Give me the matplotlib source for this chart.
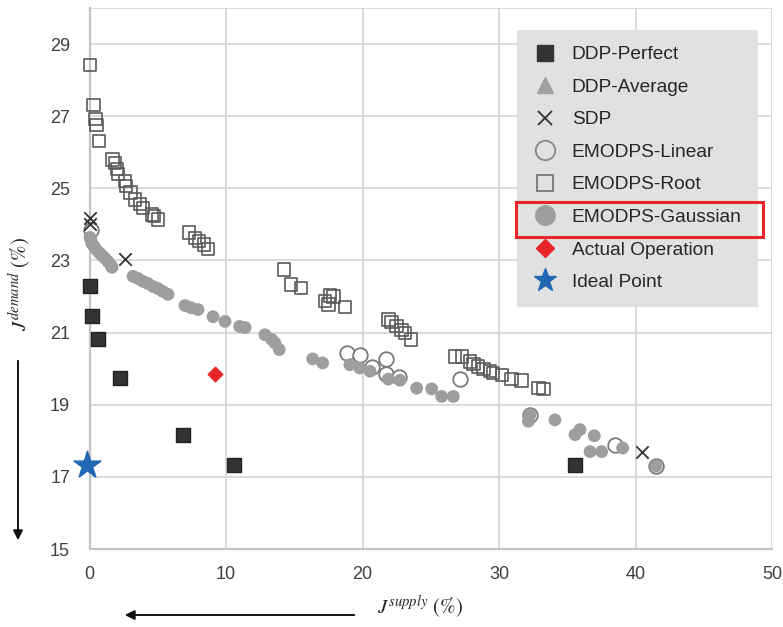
import matplotlib
matplotlib.use("Agg")
import matplotlib.pyplot as plt
from matplotlib.lines import Line2D
from matplotlib.patches import Rectangle, FancyArrowPatch

plt.rcParams['font.family'] = ['Liberation Sans', 'DejaVu Sans']
plt.rcParams['mathtext.fontset'] = 'stix'

# ---------------- data ----------------
ddp_perfect_x = [0.0, 0.2, 0.6, 2.2, 6.85, 10.6, 35.6]
ddp_perfect_y = [22.28, 21.45, 20.83, 19.75, 18.15, 17.32, 17.33]

ddp_average_x = []
ddp_average_y = []

sdp_x = [0.05, 0.05, 2.6, 40.45]
sdp_y = [24.18, 24.0, 23.03, 17.7]

linear_x = [0.1, 18.84, 19.82, 20.67, 21.72, 21.72, 22.7, 27.14, 32.27, 38.5, 41.5]
linear_y = [23.85, 20.43, 20.39, 20.06, 20.27, 19.86, 19.77, 19.72, 18.72, 17.89, 17.3]

root_x = [0.04, 0.28, 0.45, 0.5, 0.7, 1.7, 1.87, 2.0, 2.1, 2.6, 2.67, 3.0, 3.33, 3.7,
          3.94, 4.56, 4.72, 5.0, 7.3, 7.73, 8.04, 8.39, 8.7, 14.27, 14.76, 15.5,
          17.25, 17.6, 17.86, 17.5, 18.7, 21.89, 22.14, 22.5, 22.87, 23.1, 23.55,
          26.78, 27.27, 27.88, 28.12, 28.48, 28.85, 29.34, 29.58, 30.2, 30.93,
          31.66, 32.88, 33.25]
root_y = [28.42, 27.31, 26.92, 26.75, 26.31, 25.8, 25.7, 25.53, 25.4, 25.2, 25.06,
          24.88, 24.69, 24.56, 24.46, 24.28, 24.23, 24.14, 23.77, 23.63, 23.54,
          23.44, 23.31, 22.75, 22.33, 22.24, 21.87, 22.03, 22.0, 21.78, 21.71,
          21.36, 21.29, 21.19, 21.08, 20.99, 20.81, 20.34, 20.34, 20.2, 20.13,
          20.06, 19.99, 19.93, 19.88, 19.83, 19.71, 19.67, 19.46, 19.44]

gauss_x = [0.04, 0.11, 0.18, 0.33, 0.48, 0.7, 0.92, 1.14, 1.36, 1.58, 1.65,
           3.19, 3.55, 3.92, 4.29, 4.65, 5.02, 5.38, 5.75,
           7.0, 7.44, 7.95, 9.05, 9.93, 11.0, 11.4, 12.86, 13.35, 13.59, 13.9,
           16.35, 17.08, 19.08, 19.8, 20.55, 21.89, 22.75, 23.97, 25.07, 25.8,
           26.65, 32.27, 32.15, 34.1, 35.57, 35.93, 36.98, 36.67, 37.52, 39.06, 41.5]
gauss_y = [23.64, 23.56, 23.47, 23.39, 23.31, 23.22, 23.14, 23.06, 22.97, 22.86, 22.81,
           22.56, 22.5, 22.42, 22.36, 22.28, 22.22, 22.14, 22.06,
           21.75, 21.69, 21.64, 21.44, 21.31, 21.17, 21.14, 20.94, 20.81, 20.71, 20.53,
           20.27, 20.16, 20.11, 20.02, 19.93, 19.71, 19.68, 19.46, 19.44, 19.23,
           19.23, 18.72, 18.54, 18.58, 18.17, 18.31, 18.14, 17.7, 17.7, 17.8, 17.3]

actual_x = [9.2]
actual_y = [19.86]

ideal_x = [-0.2]
ideal_y = [17.33]

x_ticks = [0, 10, 20, 30, 40, 50]
y_ticks = [15, 17, 19, 21, 23, 25, 27, 29]

# ---------------- figure ----------------
W, H = 783, 627
fig = plt.figure(figsize=(W / 100, H / 100), dpi=100)
ax = fig.add_axes([89.5 / W, 1 - 549 / H, (772 - 89.5) / W, (549 - 8) / H])
ax.set_xlim(0, 50)
ax.set_ylim(15, 30)
ax.set_xticks(x_ticks)
ax.set_yticks(y_ticks)
ax.tick_params(length=0, labelsize=13, labelcolor='#404040', pad=14)
ax.tick_params(axis='x', pad=12)
ax.grid(True, color='#d4d4d4', linewidth=1.2)
ax.axhline(30, color='#d4d4d4', linewidth=1.2)
ax.set_axisbelow(True)
for s in ['top', 'right']:
    ax.spines[s].set_visible(False)
for s in ['left', 'bottom']:
    ax.spines[s].set_color('#c4c4c4')
    ax.spines[s].set_linewidth(1.6)

ax.scatter(root_x, root_y, marker='s', s=80, facecolors='none', edgecolors='#5a5a5a',
           linewidths=1.2, zorder=3, clip_on=False)
ax.scatter(linear_x, linear_y, marker='o', s=110, facecolors='white', edgecolors='#7a7a7a',
           linewidths=1.3, zorder=3, clip_on=False)
ax.scatter(gauss_x, gauss_y, marker='o', s=85, color='#9e9e9e', edgecolors='none', zorder=4,
           clip_on=False)
ax.scatter(ddp_average_x, ddp_average_y, marker='^', s=80, color='#a0a0a0', zorder=4)
ax.scatter(ddp_perfect_x, ddp_perfect_y, marker='s', s=110, color='#333333',
           edgecolors='#222222', zorder=5, clip_on=False)
ax.scatter(sdp_x, sdp_y, marker='x', s=80, color='#333333', linewidths=1.3, zorder=5,
           clip_on=False)
ax.scatter(actual_x, actual_y, marker='D', s=55, color='#e8262a', zorder=5)
ax.scatter(ideal_x, ideal_y, marker='*', s=420, color='#2167b3', zorder=6, clip_on=False)

# ---------------- legend ----------------
handles = [
    Line2D([], [], ls='none', marker='s', ms=11, mfc='#333333', mec='#333333'),
    Line2D([], [], ls='none', marker='^', ms=11, mfc='#a0a0a0', mec='#a0a0a0'),
    Line2D([], [], ls='none', marker='x', ms=10, mec='#333333', mew=1.3),
    Line2D([], [], ls='none', marker='o', ms=14, mfc='none', mec='#888888', mew=1.3),
    Line2D([], [], ls='none', marker='s', ms=12, mfc='none', mec='#777777', mew=1.3),
    Line2D([], [], ls='none', marker='o', ms=14, mfc='#9e9e9e', mec='#9e9e9e'),
    Line2D([], [], ls='none', marker='D', ms=9, mfc='#e8262a', mec='#e8262a'),
    Line2D([], [], ls='none', marker='*', ms=17, mfc='#2167b3', mec='#2167b3'),
]
labels = ['DDP-Perfect', 'DDP-Average', 'SDP', 'EMODPS-Linear', 'EMODPS-Root',
          'EMODPS-Gaussian', 'Actual Operation', 'Ideal Point']
leg = fig.legend(handles, labels, loc='upper left',
                 bbox_to_anchor=(517 / W, 1 - 29.5 / H), bbox_transform=fig.transFigure,
                 fontsize=13.8, frameon=True, fancybox=False, framealpha=1,
                 facecolor='#e1e1e1', edgecolor='none', labelspacing=0.79,
                 handletextpad=0.8, borderpad=0.85, handlelength=1.2,
                 borderaxespad=0)
for t in leg.get_texts():
    t.set_color('#262626')

fig.add_artist(Rectangle((516 / W, 1 - 237 / H), (763 - 516) / W, (237 - 202) / H,
                         transform=fig.transFigure, fill=False, edgecolor='#e8262a',
                         linewidth=2.2, zorder=10))

# ---------------- axis labels with arrows ----------------
fig.text(20 / W, 1 - 284 / H, r'$J^{demand}$ (%)', rotation=90, ha='center', va='center',
         fontsize=15, color='#262626', family=['STIXGeneral', 'DejaVu Serif'])
fig.text(420 / W, 1 - 607 / H, r'$J^{supply}$ (%)', ha='center', va='center',
         fontsize=15, color='#262626', family=['STIXGeneral', 'DejaVu Serif'])

fig.add_artist(FancyArrowPatch((18 / W, 1 - 358 / H), (18 / W, 1 - 543 / H),
                               transform=fig.transFigure, arrowstyle='-|>',
                               mutation_scale=14, color='#111111', linewidth=1.4))
fig.add_artist(FancyArrowPatch((357 / W, 1 - 615 / H), (122 / W, 1 - 615 / H),
                               transform=fig.transFigure, arrowstyle='-|>',
                               mutation_scale=14, color='#111111', linewidth=1.4))

fig.savefig('out.png', dpi=100)
